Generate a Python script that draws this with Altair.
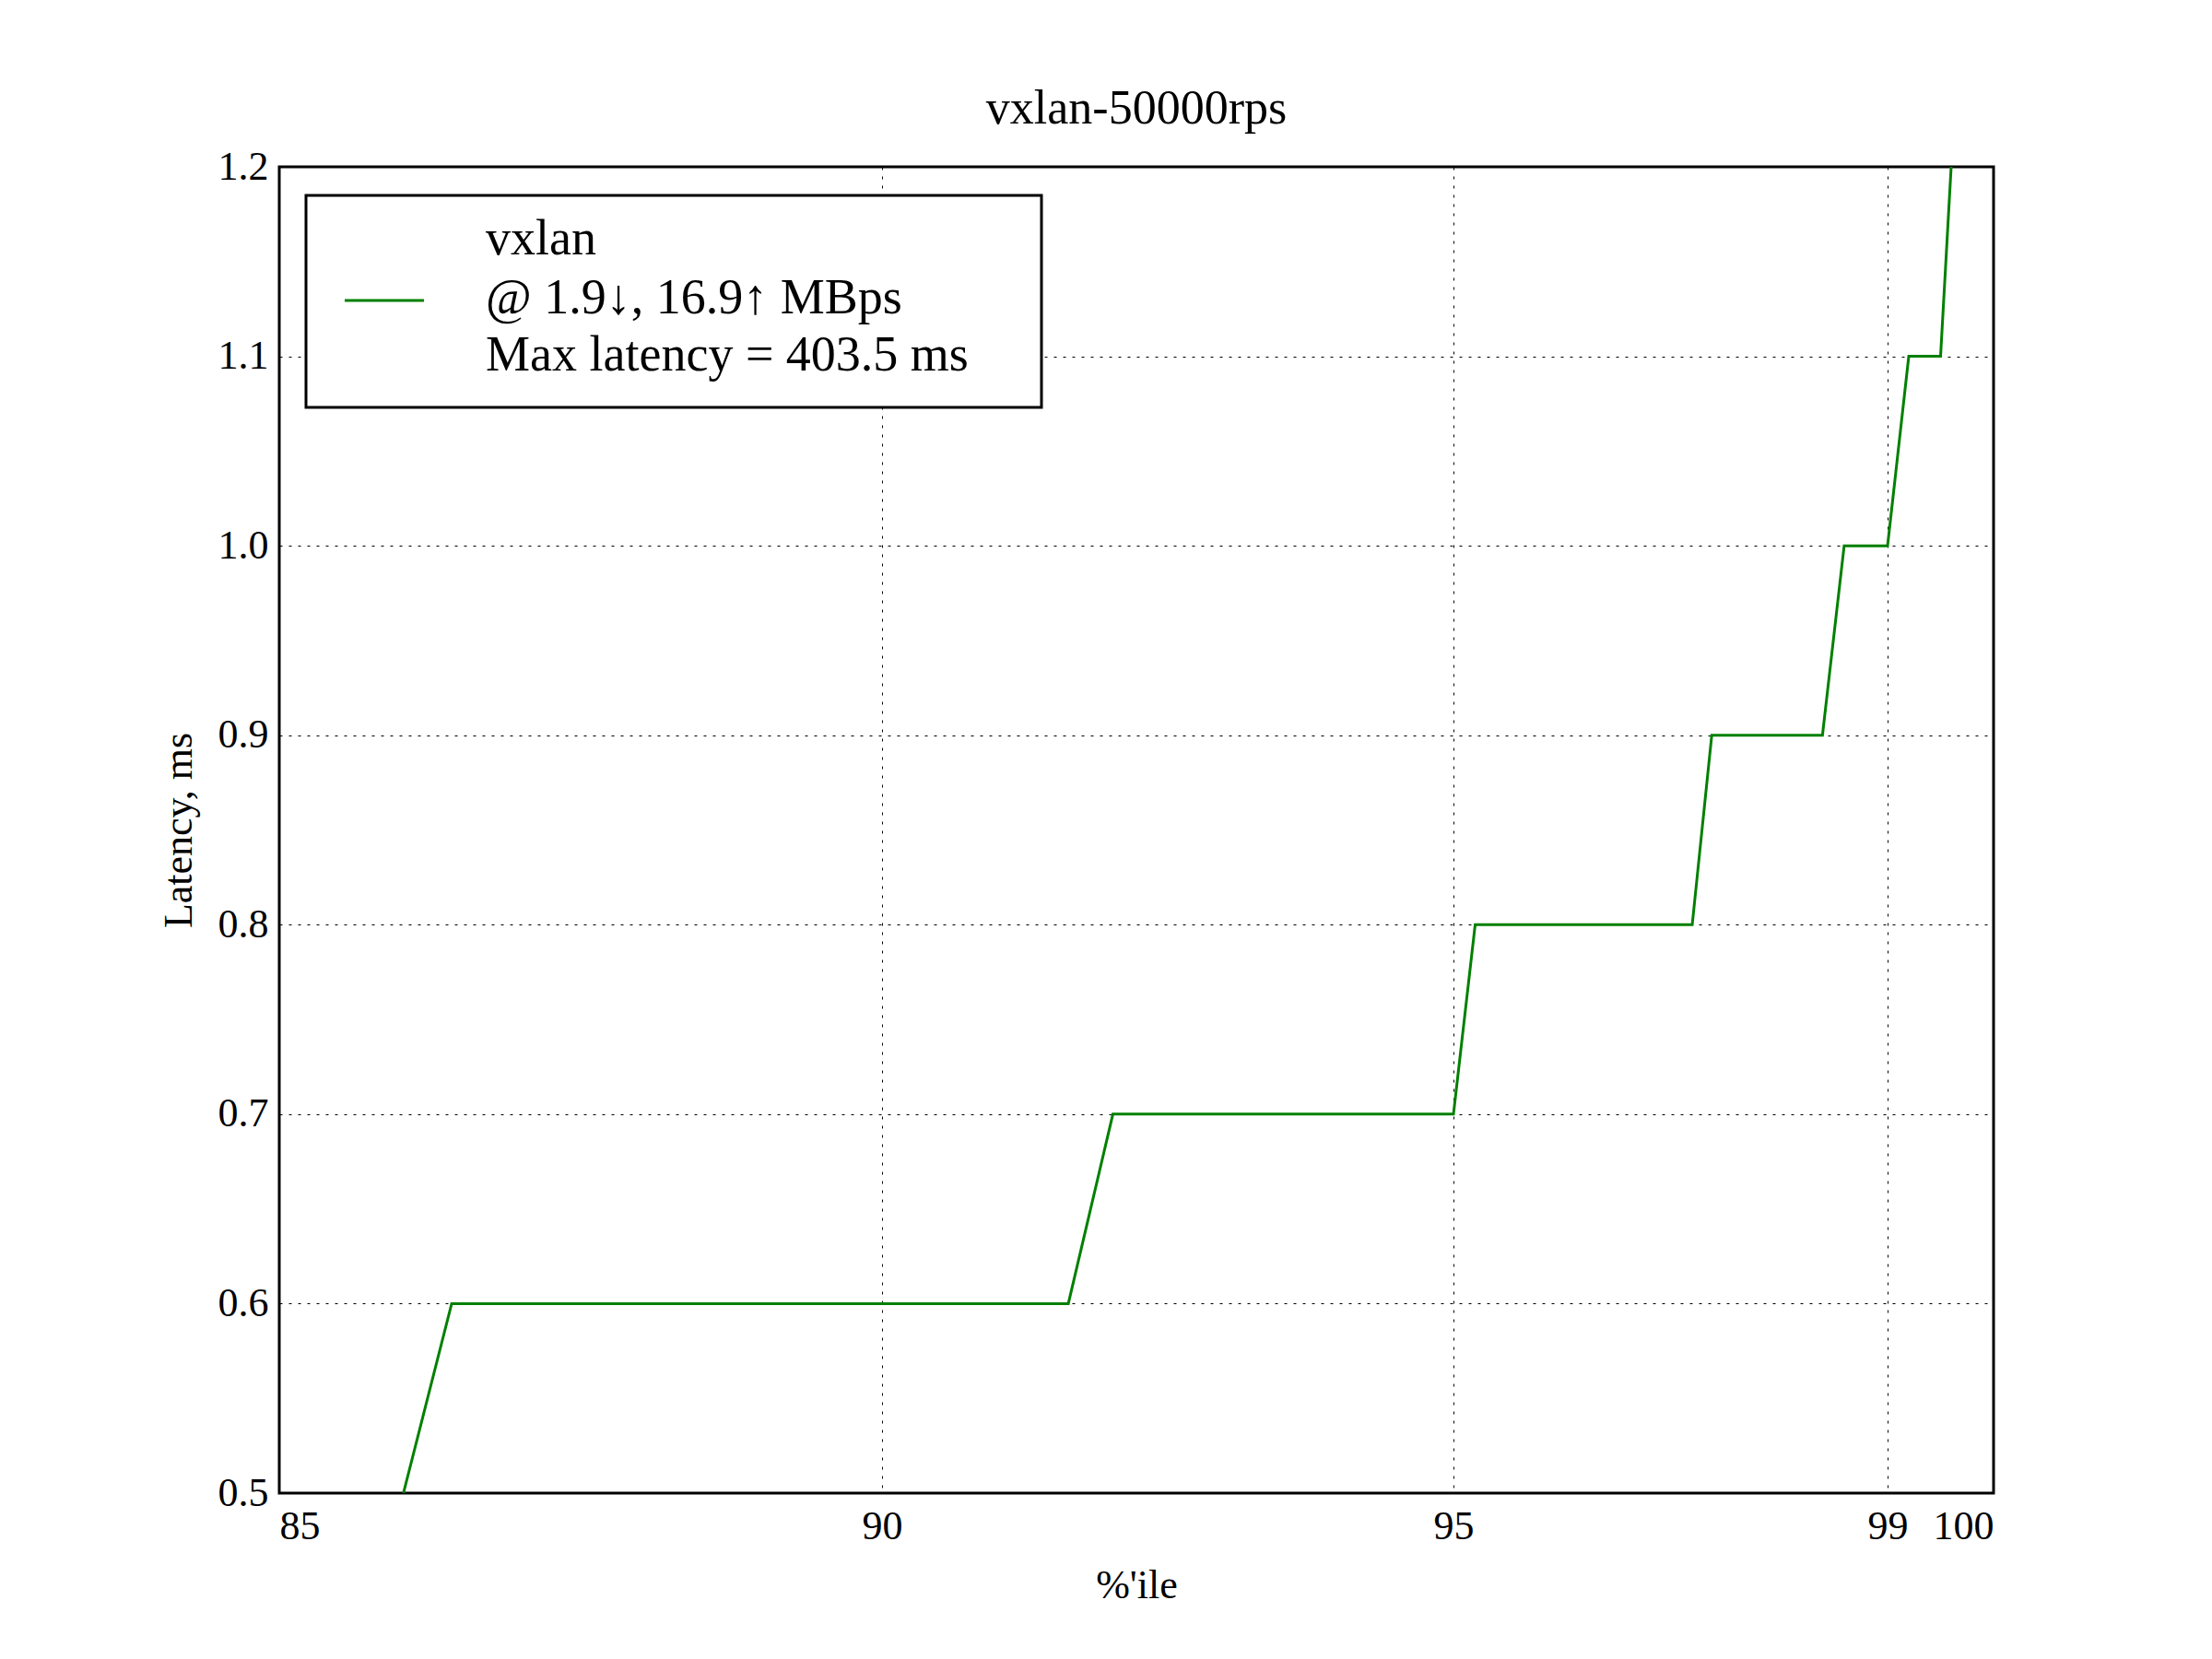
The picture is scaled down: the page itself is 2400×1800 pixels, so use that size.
import pandas as pd
import altair as alt

# percentile / latency readings
pct = [86.03, 86.43, 91.63, 92.02, 95.0, 95.2, 97.2, 97.38, 98.4, 98.6, 99.0, 99.2, 99.5, 99.6]
lat = [0.5, 0.6, 0.6, 0.7, 0.7, 0.8, 0.8, 0.9, 0.9, 1.0, 1.0, 1.1, 1.1, 1.2]
x_ticks = [85, 90, 95, 99, 100]
y_ticks = [0.5, 0.6, 0.7, 0.8, 0.9, 1.0, 1.1, 1.2]
legend_lines = ["vxlan", "@ 1.9↓, 16.9↑ MBps", "Max latency = 403.5 ms"]

W, H = 1860, 1439
FONT = "Liberation Serif"

df = pd.DataFrame({"pct": pct, "lat": lat})

xs = alt.Scale(domain=x_ticks, range=[0, 654, 1274, 1745, W])
ys = alt.Scale(domain=[0.5, 1.2])

line = alt.Chart(df).mark_line(color="#008000", strokeWidth=3, clip=True).encode(
    x=alt.X("pct:Q", scale=xs, title="%'ile",
            axis=alt.Axis(values=x_ticks, grid=True, gridDash=[3, 7], gridColor="black",
                          gridOpacity=1, ticks=False, labelPadding=14, titlePadding=20)),
    y=alt.Y("lat:Q", scale=ys, title="Latency, ms",
            axis=alt.Axis(values=y_ticks, format=".1f", grid=True, gridDash=[3, 7],
                          gridColor="black", gridOpacity=1, ticks=False, labelPadding=12,
                          titlePadding=20)),
)

box = alt.Chart(pd.DataFrame({"a": [0]})).mark_rect(
    fill="white", stroke="black", strokeWidth=3
).encode(x=alt.value(29), x2=alt.value(827), y=alt.value(31), y2=alt.value(261))

sample = alt.Chart(pd.DataFrame({"a": [0]})).mark_rule(color="#008000", strokeWidth=3).encode(
    x=alt.value(71), x2=alt.value(157), y=alt.value(145)
)

texts = alt.Chart(pd.DataFrame({"t": legend_lines, "yy": [79, 143, 205]})).mark_text(
    align="left", baseline="middle", font=FONT, fontSize=54, x=224
).encode(text="t:N", y=alt.Y("yy:Q", scale=None))

chart = alt.layer(line, box, sample, texts).properties(
    width=W, height=H,
    title=alt.TitleParams("vxlan-50000rps", font=FONT, fontSize=52, fontWeight="normal", offset=14),
    autosize=alt.AutoSizeParams(type="none"),
    padding={"left": 295, "top": 173, "right": 200, "bottom": 150},
).configure(background="white").configure_view(
    stroke="black", strokeWidth=3
).configure_axis(
    labelFont=FONT, labelFontSize=44, titleFont=FONT, titleFontSize=44,
    titleFontWeight="normal", labelColor="black", titleColor="black", domain=False
)

chart.save("out.html", embed_options={"renderer": "svg", "actions": False})
